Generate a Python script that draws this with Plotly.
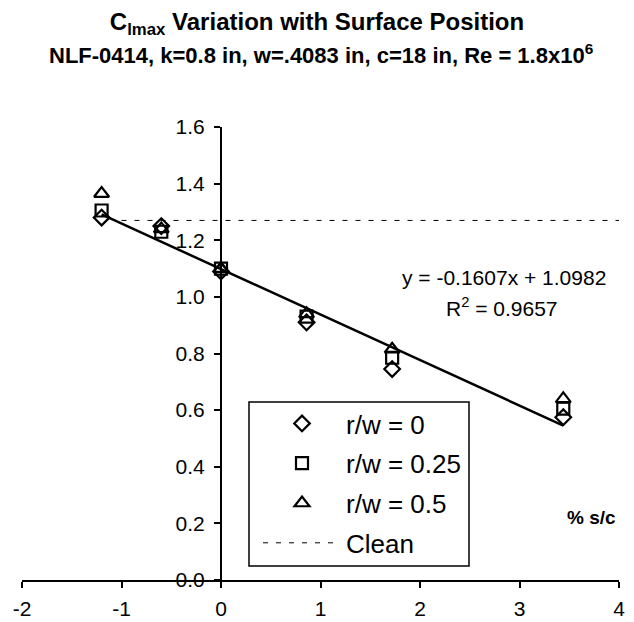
import plotly.graph_objects as go

# ---- data ----
x_pos = [-1.2, -0.6, 0.0, 0.86, 1.72, 3.44]
cl_r0 = [1.28, 1.25, 1.09, 0.91, 0.745, 0.575]
cl_r025 = [1.305, 1.23, 1.10, 0.93, 0.785, 0.605]
cl_r05 = [1.365, 1.24, 1.10, 0.94, 0.815, 0.64]
clean_x = [-1.0, 4.0]
clean_cl = [1.27, 1.27]
fit_slope = -0.1607
fit_intercept = 1.0982
fit_r2 = 0.9657
x_ticks = [-2, -1, 0, 1, 2, 3, 4]
y_ticks = [0.0, 0.2, 0.4, 0.6, 0.8, 1.0, 1.2, 1.4, 1.6]

FONT = "Liberation Sans, Arial, sans-serif"
W, H = 634, 622
ML, MR, MT, MB = 22, 15, 127, 42
PW, PH = W - ML - MR, H - MT - MB


def px_x(p):
    return (p - ML) / PW


def px_y(p):
    return (H - MB - p) / PH


fig = go.Figure()

# trendline from equation over data x range
fx = [min(x_pos), max(x_pos)]
fy = [fit_slope * v + fit_intercept for v in fx]
fig.add_trace(go.Scatter(x=fx, y=fy, mode="lines", line=dict(color="black", width=2.5),
                         showlegend=False, hoverinfo="skip"))

mk = dict(color="black", width=2.2)
fig.add_trace(go.Scatter(x=x_pos, y=cl_r0, mode="markers", name="r/w = 0", legendgroup="a",
                         marker=dict(symbol="diamond-open", size=12, color="black", line=mk)))
fig.add_trace(go.Scatter(x=x_pos, y=cl_r025, mode="markers", name="r/w = 0.25", legendgroup="b",
                         marker=dict(symbol="square-open", size=12, color="black", line=mk)))
fig.add_trace(go.Scatter(x=x_pos, y=cl_r05, mode="markers", name="r/w = 0.5", legendgroup="c",
                         marker=dict(symbol="triangle-up-open", size=13, color="black", line=mk)))
fig.add_trace(go.Scatter(x=clean_x, y=clean_cl, mode="lines", name="Clean", legendgroup="d",
                         line=dict(color="black", width=1, dash="5px,8px")))

fig.update_layout(
    width=W, height=H,
    margin=dict(l=ML, r=MR, t=MT, b=MB, autoexpand=False),
    paper_bgcolor="white", plot_bgcolor="white",
    font=dict(family=FONT, color="black", size=21),
    title=dict(text="<b>C<sub>lmax</sub> Variation with Surface Position</b>",
               x=0.5, xanchor="center", y=1 - 22 / H, yanchor="middle",
               yref="container", font=dict(size=24, family=FONT, color="black")),
    xaxis=dict(range=[-2, 4], tickvals=x_ticks, ticktext=[str(v) for v in x_ticks],
               showgrid=False, zeroline=False, showline=True, linecolor="black", linewidth=2,
               ticks="outside", ticklen=6, tickwidth=1.5, tickcolor="black", automargin=False,
               ticklabelstandoff=3, tickfont=dict(size=21), fixedrange=True),
    yaxis=dict(range=[0, 1.6], tickvals=y_ticks, ticktext=["%.1f" % v for v in y_ticks],
               anchor="free", position=1 / 3, automargin=False,
               showgrid=False, zeroline=False, showline=True, linecolor="black", linewidth=2,
               ticks="outside", ticklen=6, tickwidth=1.5, tickcolor="black",
               ticklabelstandoff=5, tickfont=dict(size=21), fixedrange=True),
    legend=dict(x=px_x(258), y=px_y(400), xanchor="left", yanchor="top",
                borderwidth=0, bgcolor="rgba(0,0,0,0)",
                font=dict(size=26, family=FONT), itemwidth=78,
                traceorder="grouped", tracegroupgap=3),
    showlegend=True,
)

# legend frame
fig.add_shape(type="rect", xref="paper", yref="paper",
              x0=px_x(249), x1=px_x(469), y0=px_y(566), y1=px_y(402),
              line=dict(color="black", width=1.5), fillcolor="white", layer="above")

fig.add_annotation(text="<b>NLF-0414, k=0.8 in, w=.4083 in, c=18 in, Re = 1.8x10<sup>6</sup></b>",
                   xref="paper", yref="paper", x=0.5, y=px_y(54), showarrow=False,
                   font=dict(size=22, family=FONT), xanchor="center", yanchor="middle")
fig.add_annotation(text="<b>C<sub>lmax</sub></b>", xref="x", yref="y", x=0.24, y=1.605,
                   showarrow=False, xanchor="left", yanchor="middle", font=dict(size=22))
fig.add_annotation(text="<b>% s/c</b>", xref="x", yref="y", x=3.46, y=(H - MB - 517) / PH * 1.6,
                   showarrow=False, xanchor="left", yanchor="middle", font=dict(size=19))
fig.add_annotation(text="y = %.4fx + %.4f" % (fit_slope, fit_intercept), xref="x", yref="y",
                   x=2.84, y=(H - MB - 277) / PH * 1.6, showarrow=False,
                   xanchor="center", yanchor="middle", font=dict(size=21))
fig.add_annotation(text="R<sup>2</sup> = %.4f" % fit_r2, xref="x", yref="y",
                   x=2.82, y=(H - MB - 307) / PH * 1.6, showarrow=False,
                   xanchor="center", yanchor="middle", font=dict(size=21))

fig.write_html("out.html")
